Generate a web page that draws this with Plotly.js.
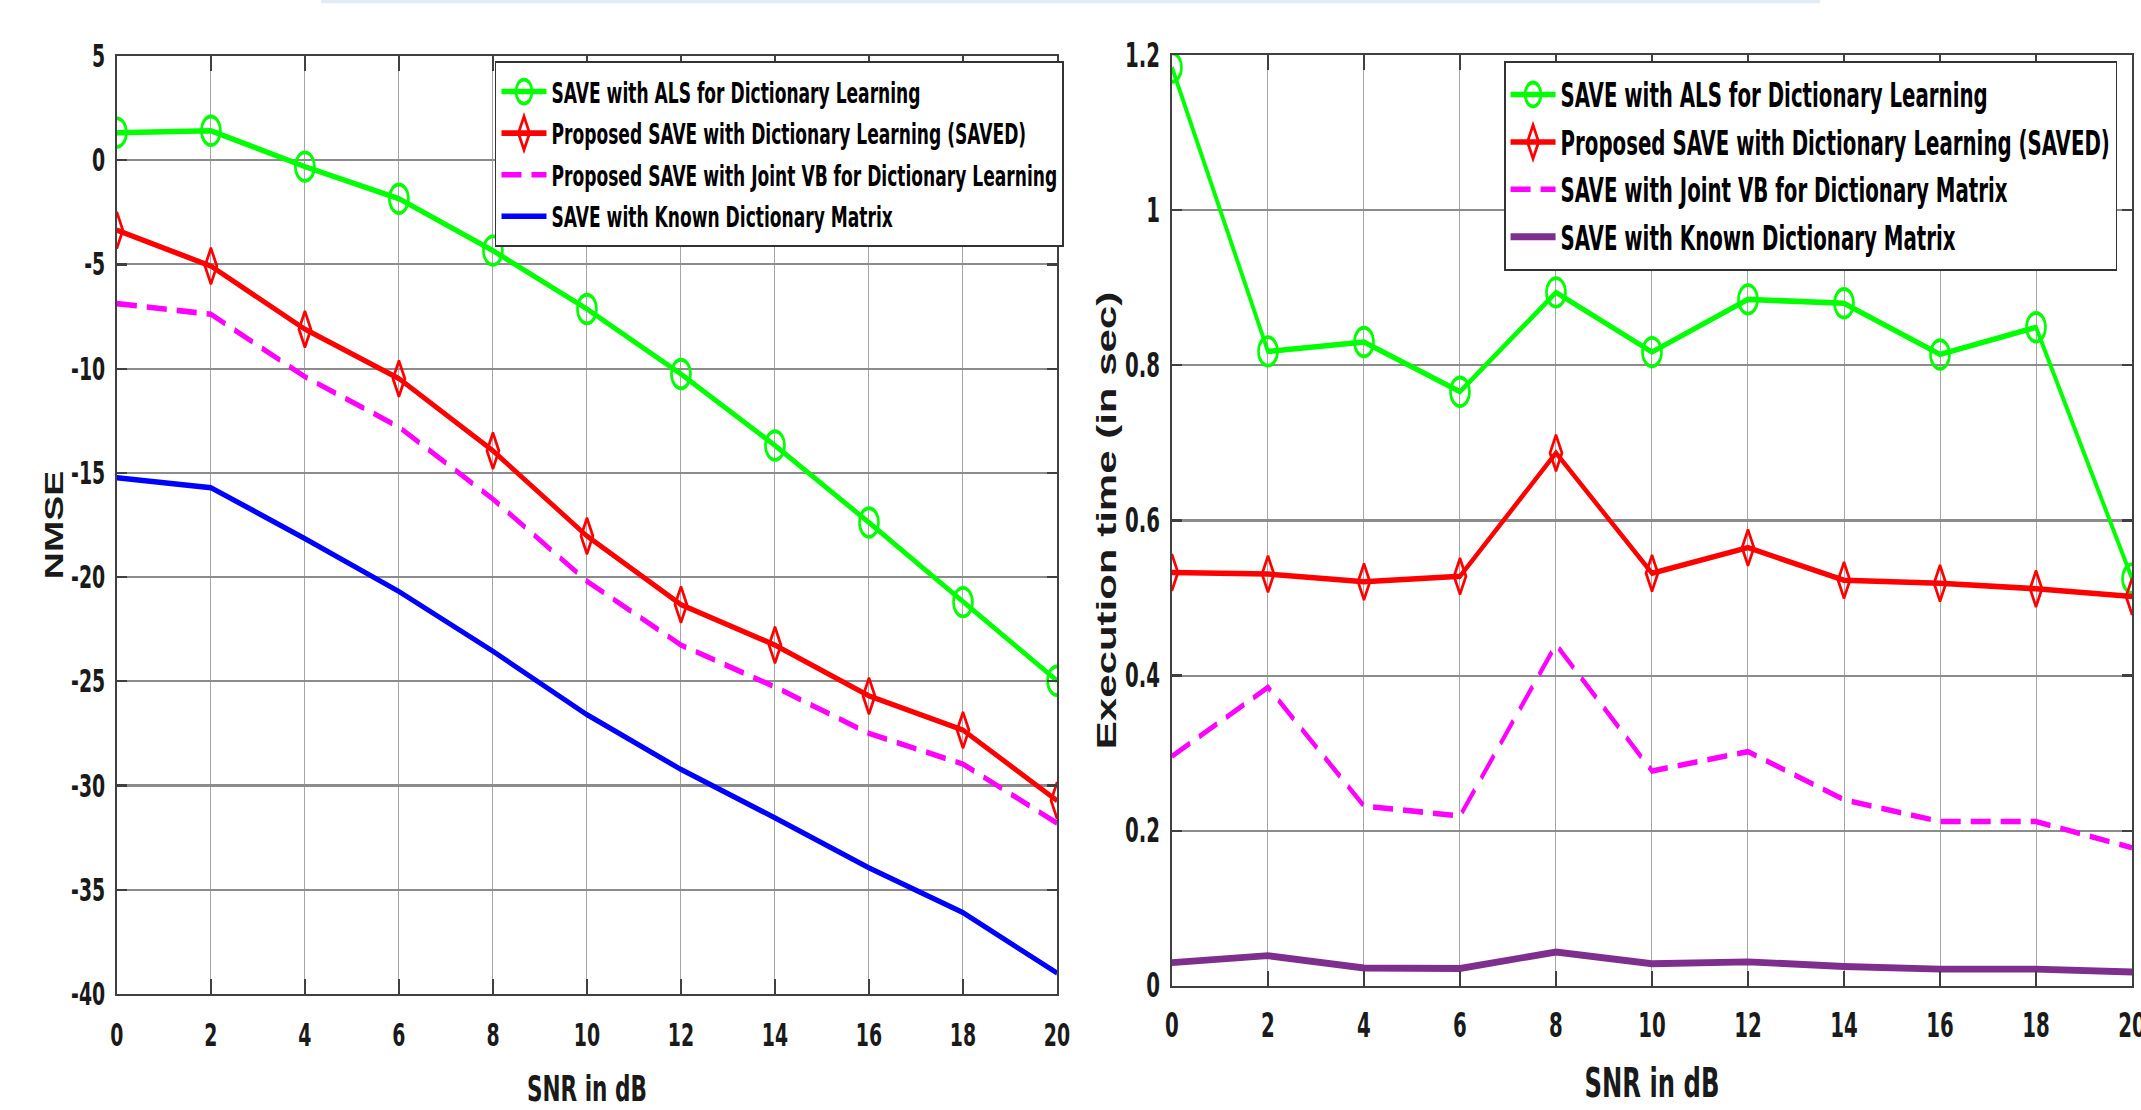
<!DOCTYPE html>
<html><head><meta charset="utf-8">
<script src="https://cdn.plot.ly/plotly-3.0.1.min.js"></script>
<style>
html,body{margin:0;padding:0;background:#fff;width:2141px;height:1110px;overflow:hidden;}
#wrap{position:relative;width:2141px;height:1110px;overflow:visible;}
#chart{position:absolute;left:0;top:0;width:2141px;height:740px;transform:scaleY(1.5);transform-origin:0 0;}
</style>
</head><body><div id="wrap"><div id="chart"></div></div>
<script>
// ---- data ----
const snr = [0, 2, 4, 6, 8, 10, 12, 14, 16, 18, 20];

// Left panel: NMSE (dB)
const nmseALS     = [1.32, 1.41, -0.31, -1.85, -4.34, -7.14, -10.26, -13.69, -17.38, -21.2, -24.97];
const nmseSAVED   = [-3.36, -5.08, -8.11, -10.48, -13.94, -18.03, -21.32, -23.26, -25.70, -27.34, -30.72];
const nmseJointVB = [-6.88, -7.39, -10.39, -12.8, -16.26, -20.2, -23.26, -25.27, -27.5, -28.97, -31.8];
const nmseKnown   = [-15.23, -15.71, -18.15, -20.69, -23.56, -26.6, -29.23, -31.55, -33.95, -36.1, -38.99];

// Right panel: execution time (sec)
const timeALS     = [1.184, 0.818, 0.830, 0.766, 0.894, 0.817, 0.885, 0.880, 0.814, 0.849, 0.525];
const timeSAVED   = [0.533, 0.531, 0.521, 0.528, 0.687, 0.532, 0.565, 0.523, 0.519, 0.512, 0.502];
const timeJointVB = [0.296, 0.385, 0.232, 0.219, 0.440, 0.277, 0.302, 0.240, 0.212, 0.212, 0.178];
const timeKnown   = [0.030, 0.039, 0.023, 0.0225, 0.0437, 0.0285, 0.031, 0.025, 0.0216, 0.0216, 0.018];

const namesLeft = [
  'SAVE with ALS for Dictionary Learning',
  'Proposed SAVE with Dictionary Learning (SAVED)',
  'Proposed SAVE with Joint VB for Dictionary Learning',
  'SAVE with Known Dictionary Matrix'
];
const namesRight = [
  'SAVE with ALS for Dictionary Learning',
  'Proposed SAVE with Dictionary Learning (SAVED)',
  'SAVE with Joint VB for Dictionary Matrix',
  'SAVE with Known Dictionary Matrix'
];

const xTickVals = [0, 2, 4, 6, 8, 10, 12, 14, 16, 18, 20];
const yLeftTickVals = [5, 0, -5, -10, -15, -20, -25, -30, -35, -40];
const yLeftTickText = ['5', '0', '-5', '-10', '-15', '-20', '-25', '-30', '-35', '-40'];

// ---- styles ----
const NARROW = '"Liberation Sans Narrow", "Arial Narrow", "DejaVu Sans Condensed", sans-serif';
const WIDE = '"Liberation Sans", Arial, sans-serif';
const GREEN = '#00ff00', RED = '#ff0000', MAGENTA = '#ff00ff', BLUE = '#0000ff', PURPLE = '#7e2f8e';
const LW = 3.7;
const TXT = '#1a1a1a';

function mk(x, y, name, color, opts, xa, ya, lg) {
  return Object.assign({
    type: 'scatter', x: x, y: y, name: name,
    xaxis: xa, yaxis: ya, legend: lg,
    mode: 'lines', line: {color: color, width: LW}
  }, opts);
}
const circ = {mode: 'lines+markers', marker: {symbol: 'circle-open', size: 19, color: GREEN, line: {width: 2.6, color: GREEN}}};
const diam = {mode: 'lines+markers', marker: {symbol: 'diamond-tall-open', size: 17, color: RED, line: {width: 2.6, color: RED}}};
const dashed = {line: {color: MAGENTA, width: LW, dash: '20px,10px'}};

const traces = [
  mk(snr, nmseALS, namesLeft[0], GREEN, circ, 'x', 'y', 'legend'),
  mk(snr, nmseSAVED, namesLeft[1], RED, diam, 'x', 'y', 'legend'),
  mk(snr, nmseJointVB, namesLeft[2], MAGENTA, dashed, 'x', 'y', 'legend'),
  mk(snr, nmseKnown, namesLeft[3], BLUE, {}, 'x', 'y', 'legend'),
  mk(snr, timeALS, namesRight[0], GREEN, circ, 'x2', 'y2', 'legend2'),
  mk(snr, timeSAVED, namesRight[1], RED, diam, 'x2', 'y2', 'legend2'),
  mk(snr, timeJointVB, namesRight[2], MAGENTA, dashed, 'x2', 'y2', 'legend2'),
  mk(snr, timeKnown, namesRight[3], PURPLE, {line: {color: PURPLE, width: 4.6}}, 'x2', 'y2', 'legend2')
];

function axisBase(extra) {
  return Object.assign({
    showgrid: true, zeroline: false, showline: true, linecolor: '#404040', linewidth: 1.5,
    mirror: 'ticks', ticks: 'inside', ticklen: 10, tickwidth: 1.5, tickcolor: '#404040',
    ticklabeloverflow: 'allow', fixedrange: true
  }, extra);
}

const layout = {
  width: 2141, height: 740,
  margin: {l: 0, r: 0, t: 0, b: 0},
  paper_bgcolor: '#ffffff', plot_bgcolor: '#ffffff',
  showlegend: true,
  xaxis: axisBase({
    domain: [0.0546, 0.4937], anchor: 'y', range: [0, 20], tickvals: xTickVals,
    gridcolor: '#a6a6a6', gridwidth: 1,
    tickfont: {family: NARROW, size: 21, weight: 'bold', color: TXT},
    ticklabelstandoff: 8,
    title: {text: 'SNR in dB', font: {family: NARROW, size: 24, weight: 'bold', color: TXT}, standoff: 44}
  }),
  yaxis: axisBase({
    domain: [0.1045, 0.9496], anchor: 'x', range: [-40, 5],
    tickvals: yLeftTickVals, ticktext: yLeftTickText,
    gridcolor: '#8c8c8c', gridwidth: 1.4,
    tickfont: {family: NARROW, size: 21, weight: 'bold', color: TXT},
    ticklabelstandoff: 6,
    title: {text: 'NMSE', font: {family: WIDE, size: 25, weight: 'bold', color: TXT}, standoff: 0}
  }),
  xaxis2: axisBase({
    domain: [0.5474, 0.9958], anchor: 'y2', range: [0, 20], tickvals: xTickVals,
    gridcolor: '#a6a6a6', gridwidth: 1,
    tickfont: {family: NARROW, size: 22, weight: 'bold', color: TXT},
    ticklabelstandoff: 6,
    title: {text: 'SNR in dB', font: {family: NARROW, size: 27, weight: 'bold', color: TXT}, standoff: 17}
  }),
  yaxis2: axisBase({
    domain: [0.1118, 0.9504], anchor: 'x2', range: [0, 1.2], dtick: 0.2, tick0: 0,
    gridcolor: '#8c8c8c', gridwidth: 1.4,
    tickfont: {family: NARROW, size: 22, weight: 'bold', color: TXT},
    ticklabelstandoff: 6,
    title: {text: 'Execution time (in sec)', font: {family: WIDE, size: 28, weight: 'bold', color: TXT}, standoff: 0}
  }),
  legend: {
    x: 0.2312, y: 0.945, xanchor: 'left', yanchor: 'top',
    bgcolor: '#ffffff', bordercolor: '#333333', borderwidth: 1.5,
    font: {family: NARROW, size: 19, weight: 'bold', color: '#000000'},
    itemwidth: 45, tracegroupgap: 0
  },
  legend2: {
    x: 0.7025, y: 0.945, xanchor: 'left', yanchor: 'top',
    bgcolor: '#ffffff', bordercolor: '#333333', borderwidth: 1.5,
    font: {family: NARROW, size: 22, weight: 'bold', color: '#000000'},
    itemwidth: 45, tracegroupgap: 0
  },
  shapes: [
    {type: 'rect', xref: 'paper', yref: 'paper', x0: 0.15, x1: 0.85, y0: 0.997, y1: 1,
     line: {width: 0}, fillcolor: 'rgba(190,212,235,0.45)', layer: 'above'}
  ]
};

Plotly.newPlot('chart', traces, layout, {displayModeBar: false, staticPlot: true});
</script>
</body></html>
